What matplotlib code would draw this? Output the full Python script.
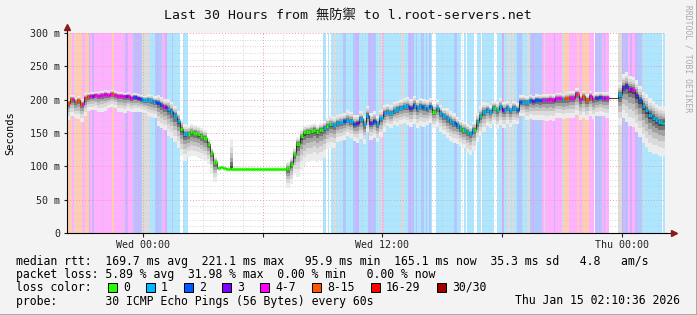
import numpy as np
import pandas as pd
import matplotlib
matplotlib.use("Agg")
import matplotlib.pyplot as plt
import matplotlib.dates as mdates
from matplotlib.collections import LineCollection
from matplotlib.lines import Line2D

W, H = 697, 315
start = pd.Timestamp("2026-01-13 20:10:36")
hours = 30

# loss per 5 minute bin, one string per hour
# 0 none, 1/2/3 pings lost, 4 = 4-7, 8 = 8-15, g = unknown, - = no data
loss_codes = [
    "8884g8888448", "834344444444", "444844444443", "344423232ggg",
    "gg1112322443", "111211110011", "100000000000", "000000000000",
    "000000000000", "000000000000", "000000000000", "000000000000",
    "000000000011", "01011g1g1122", "111122331111", "1232321g1g41",
    "111111111gg1", "123231211221", "212100111111", "111112211001",
    "011110011011", "111110011131", "1gg1g1122211", "1gg23222224g",
    "4444434444g8", "884444484488", "884440323243", "44------gg32",
    "3243443222g1", "111111111101",
]

# median rtt (ms), one value per 10 minutes
nan = float("nan")
median_ms = [
    195, 201, 197, 199, 194, 203,
    205, 206, 207, 206, 207, 208,
    207, 209, 207, 206, 206, 205,
    205, 203, 204, 202, 201, 200,
    200, 199, 197, 195, 192, 189,
    186, 182, 176, 168, 156, 148,
    149, 151, 150, 148, 146, 143,
    134, 120, 106, 98, 99, 97,
    96, 96, 96, 96, 96, 96,
    96, 96, 96, 96, 96, 96,
    96, 96, 96, 96, 96, 96,
    97, 104, 118, 134, 145, 151,
    152, 153, 155, 152, 155, 158,
    161, 163, 162, 165, 166, 168,
    170, 168, 163, 165, 171, 163,
    176, 165, 168, 164, 172, 180,
    182, 180, 184, 186, 188, 190,
    190, 187, 192, 188, 191, 189,
    187, 190, 182, 187, 180, 176,
    172, 168, 165, 162, 158, 155,
    152, 149, 155, 166, 176, 182,
    185, 182, 188, 184, 190, 185,
    188, 184, 188, 185, 197, 197,
    197, 199, 198, 200, 199, 200,
    200, 201, 200, 202, 202, 201,
    202, 203, 203, 209, 201, 205,
    200, 205, 201, 203, 204, 203,
    203, nan, nan, nan, 207, 218,
    221, 216, 214, 207, 199, 190,
    184, 177, 173, 169, 166, 165,
]

# spread of the ping "smoke" below / above the median (ms), per half hour
smoke_lo = [25, 28, 22, 25, 20, 25, 22, 20, 25, 35, 40, 40, 35, 35, 30,
            1, 1, 1, 1, 1, 1, 1, 30, 50, 45, 45, 35,
            28, 25, 30, 25, 28, 22, 25, 28, 30, 25, 28, 30, 28, 32, 30,
            25, 28, 25, 22, 28, 30, 32, 30, 30, 32, 30, 28, 30, 45,
            55, 55, 55, 50]
smoke_hi = [6, 7, 5, 6, 6, 5, 6, 6, 8, 12, 15, 15, 12, 12, 8,
            1, 1, 1, 1, 1, 1, 1, 10, 10, 10, 10, 12,
            12, 14, 12, 15, 12, 12, 12, 14, 12, 12, 12, 15, 12, 12, 14,
            10, 12, 10, 10, 8, 8, 8, 8, 10, 8, 8, 8, 8, 20,
            20, 22, 25, 25]
smoke_spikes = {49: 45}

legend_labels = ["0", "1", "2", "3", "4-7", "8-15", "16-29", "30/30"]
legend_colors = ["#26ff00", "#00b8ff", "#0059ff", "#7e00ff",
                 "#ff00ff", "#ff5500", "#ff0000", "#a10000"]

line_colors = {"0": "#26ff00", "1": "#00b8ff", "2": "#0059ff", "3": "#7e00ff",
               "4": "#ff00ff", "8": "#ff5500", "g": "#00b8ff"}
back_colors = {"1": "#aee6ff", "2": "#b0c8ff", "3": "#cdb3ff",
               "4": "#ffb0ff", "8": "#ffcdb0", "g": "#dcdcdc"}

stats_lines = [
    "median rtt:  169.7 ms avg  221.1 ms max   95.9 ms min  165.1 ms now  35.3 ms sd   4.8   am/s",
    "packet loss: 5.89 % avg  31.98 % max  0.00 % min   0.00 % now",
]
probe_line = "probe:       30 ICMP Echo Pings (56 Bytes) every 60s"
stamp = "Thu Jan 15 02:10:36 2026"
title = "Last 30 Hours from 無防禦 to l.root-servers.net"

mono = "DejaVu Sans Mono"
plt.rcParams["font.family"] = [mono, "Noto Sans CJK JP"]

fig = plt.figure(figsize=(W / 100, H / 100), dpi=100, facecolor="#f3f3f3")
ax = fig.add_axes([67 / W, (H - 233) / H, 598 / W, 200 / H])
ax.set_facecolor("white")


def px(x, y):
    return x / W, 1 - y / H


loss = "".join(loss_codes)
t5 = mdates.date2num(pd.date_range(start, periods=len(loss), freq="5min"))
t10 = mdates.date2num(pd.date_range(start, periods=len(median_ms), freq="10min"))
w5 = 5 / 1440
w10 = 10 / 1440

# loss background
bx = [t5[i] for i, c in enumerate(loss) if c in back_colors]
bc = [back_colors[c] for c in loss if c in back_colors]
ax.bar(bx, 300, width=w5, align="edge", color=bc, linewidth=0, zorder=0.3)

# smoke
med = np.array(median_ms, dtype=float)
lo = np.repeat(np.array(smoke_lo, dtype=float), 3)
hi = np.repeat(np.array(smoke_hi, dtype=float), 3)
for k, v in smoke_spikes.items():
    hi[k] = v
ok = ~np.isnan(med)
fracs = [1.0, 0.75, 0.55, 0.38, 0.22, 0.1]
grays = ["#ececec", "#dadada", "#c2c2c2", "#a2a2a2", "#767676", "#454545"]
for f, g in zip(fracs, grays):
    ax.bar(t10[ok], (lo[ok] + hi[ok]) * f, bottom=med[ok] - lo[ok] * f,
           width=w10, align="edge", color=g, linewidth=0, zorder=1)

# median, coloured by loss
segs, cols = [], []
for i, c in enumerate(loss):
    m = med[i // 2]
    if np.isnan(m) or c not in line_colors:
        continue
    segs.append([(t5[i], m), (t5[i] + w5, m)])
    cols.append(line_colors[c])
ax.step(t10[ok], med[ok], where="post", color="#202020", lw=0.6, zorder=2)
ax.add_collection(LineCollection(segs, colors=cols, linewidths=2.4, zorder=3))

ax.set_xlim(mdates.date2num(start), mdates.date2num(start + pd.Timedelta(hours=hours)))
ax.set_ylim(0, 300)

# grid
ax.set_yticks(np.arange(0, 301, 50))
ax.set_yticks(np.arange(0, 301, 10), minor=True)
ax.xaxis.set_major_locator(mdates.HourLocator(byhour=[0, 6, 12, 18]))
ax.xaxis.set_minor_locator(mdates.HourLocator())
ax.xaxis.set_major_formatter(plt.FuncFormatter(
    lambda v, p: mdates.num2date(v).strftime("%a %H:%M")
    if mdates.num2date(v).hour in (0, 12) else ""))
ax.yaxis.set_major_formatter(plt.FuncFormatter(
    lambda v, p: f"{int(v)} m" if v else "0"))
ax.set_axisbelow(True)
ax.grid(which="minor", color="#c9c9c9", linestyle=(0, (1, 2)), linewidth=0.6)
ax.grid(which="major", color="#e8a0a0", linestyle=(0, (1, 2)), linewidth=0.7)

for s in ["top", "right", "left", "bottom"]:
    ax.spines[s].set_visible(False)
ax.tick_params(which="both", labelsize=7.2, colors="#222222")
ax.tick_params(axis="x", which="major", length=3, pad=2)
ax.tick_params(axis="x", which="minor", length=0)
ax.tick_params(axis="y", which="major", length=2, pad=3)
ax.tick_params(axis="y", which="minor", length=0)

# axes with arrows
ax.plot([0, 0], [0, 1.025], transform=ax.transAxes, color="black", lw=0.8, clip_on=False, zorder=5)
ax.plot([0, 1.012], [0, 0], transform=ax.transAxes, color="black", lw=0.8, clip_on=False, zorder=5)
ax.plot([0], [1.03], marker="^", ms=4, color="#8b1a1a", transform=ax.transAxes, clip_on=False, zorder=6)
ax.plot([1.015], [0], marker=">", ms=4, color="#8b1a1a", transform=ax.transAxes, clip_on=False, zorder=6)

fig.text(*px(10, 133), "Seconds", rotation=90, ha="center", va="center", fontsize=7.5, family=mono)

fig.text(*px(348, 15), title, ha="center", va="center", fontsize=9.5,
         family=[mono, "Noto Sans CJK JP"], color="#111111")
fig.text(*px(688, 5), "RRDTOOL / TOBI OETIKER", rotation=270, ha="center", va="top",
         fontsize=5.8, family=mono, color="#aaaaaa")

fs = 8.3
cw = 7.0
for k, line in enumerate(stats_lines):
    fig.text(*px(16, 261 + 13.3 * k), line, ha="left", va="center", fontsize=fs, family=mono)
fig.text(*px(16, 287.5), "loss color:", ha="left", va="center", fontsize=fs, family=mono)
bxp = 108
for lab, col in zip(legend_labels, legend_colors):
    fig.add_artist(plt.Rectangle(px(bxp, 292), 9 / W, 9 / H, transform=fig.transFigure,
                                 facecolor=col, edgecolor="black", linewidth=0.7))
    fig.text(*px(bxp + 15, 287.5), lab, ha="left", va="center", fontsize=fs, family=mono)
    bxp = bxp + 15 + len(lab) * cw + 16
fig.text(*px(16, 301), probe_line, ha="left", va="center", fontsize=fs, family=mono)
fig.text(*px(680, 301), stamp, ha="right", va="center", fontsize=fs, family=mono)

# shaded frame edges
fig.add_artist(Line2D([0, 1], [0.5 / H, 0.5 / H], transform=fig.transFigure, color="#a0a0a0", lw=2))
fig.add_artist(Line2D([1 - 0.5 / W, 1 - 0.5 / W], [0, 1], transform=fig.transFigure, color="#a0a0a0", lw=2))

fig.savefig("out.png", dpi=100, facecolor=fig.get_facecolor())
